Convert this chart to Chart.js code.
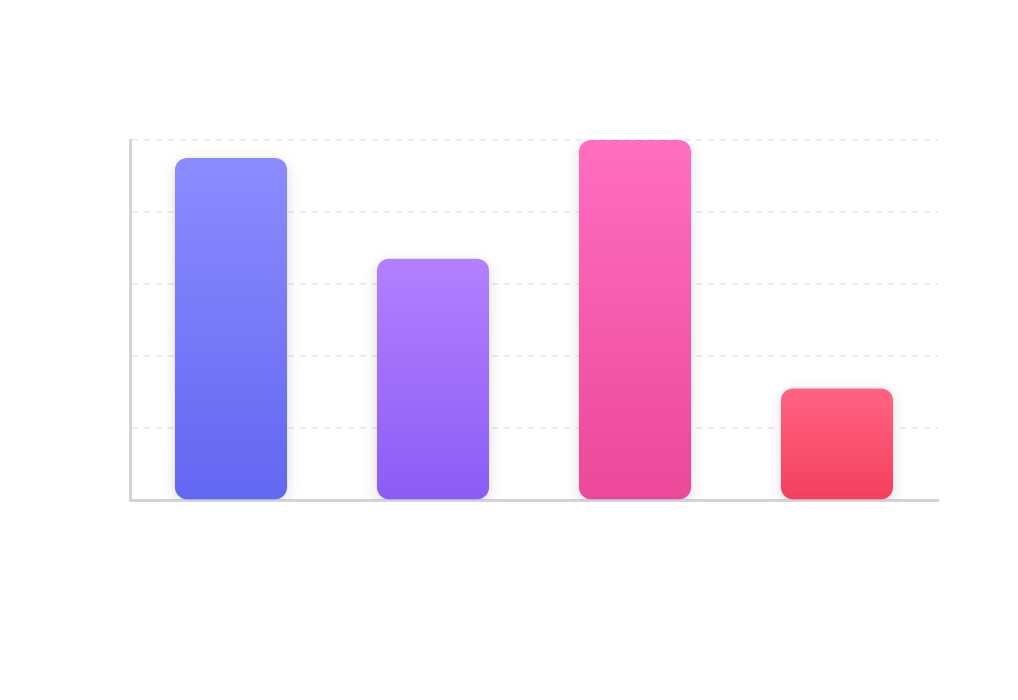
<!DOCTYPE html>
<html>
<head>
<meta charset="utf-8">
<script src="https://cdn.jsdelivr.net/npm/chart.js@4/dist/chart.umd.min.js"></script>
<style>
  html, body { margin: 0; padding: 0; background: #ffffff; }
  #wrap { width: 1018px; height: 700px; }
</style>
</head>
<body>
<div id="wrap"><canvas id="c" width="1018" height="700"></canvas></div>
<script>
const categories = ['Q1', 'Q2', 'Q3', 'Q4'];
const values = [95, 67, 100, 31];
const topColors = ['#8b8cff', '#b380ff', '#ff6ec0', '#ff6482'];
const bottomColors = ['#6366f1', '#8b5cf6', '#ec4899', '#f43f5e'];

const shadowPlugin = {
  id: 'barShadow',
  beforeDatasetsDraw(chart) {
    const ctx = chart.ctx;
    ctx.save();
    ctx.shadowColor = 'rgba(0,0,0,0.13)';
    ctx.shadowBlur = 14;
    ctx.shadowOffsetX = 0;
    ctx.shadowOffsetY = 4;
  },
  afterDatasetsDraw(chart) {
    chart.ctx.restore();
  }
};

function gradientFor(context) {
  const chart = context.chart;
  const i = context.dataIndex;
  const area = chart.chartArea;
  if (!area || !chart.scales.y) return bottomColors[i];
  const yTop = chart.scales.y.getPixelForValue(values[i]);
  const yBot = chart.scales.y.getPixelForValue(0);
  const g = chart.ctx.createLinearGradient(0, yTop, 0, yBot);
  g.addColorStop(0, topColors[i]);
  g.addColorStop(1, bottomColors[i]);
  return g;
}

new Chart(document.getElementById('c'), {
  type: 'bar',
  data: {
    labels: categories,
    datasets: [{
      data: values,
      backgroundColor: gradientFor,
      borderRadius: 12,
      borderSkipped: false,
      barPercentage: 0.555,
      categoryPercentage: 1.0
    }]
  },
  options: {
    responsive: false,
    animation: false,
    layout: { padding: { left: 130, right: 80, top: 140, bottom: 192 } },
    plugins: { legend: { display: false }, tooltip: { enabled: false } },
    scales: {
      x: {
        grid: { display: false },
        border: { display: true, color: '#d1d5db', width: 3 },
        ticks: { display: false }
      },
      y: {
        min: 0,
        max: 100,
        ticks: { display: false, stepSize: 20 },
        grid: { color: 'rgba(226,228,232,0.85)', drawTicks: false, lineWidth: 1.5 },
        border: { display: true, color: '#d1d5db', width: 3, dash: [6, 6] }
      }
    }
  },
  plugins: [shadowPlugin]
});
</script>
</body>
</html>
